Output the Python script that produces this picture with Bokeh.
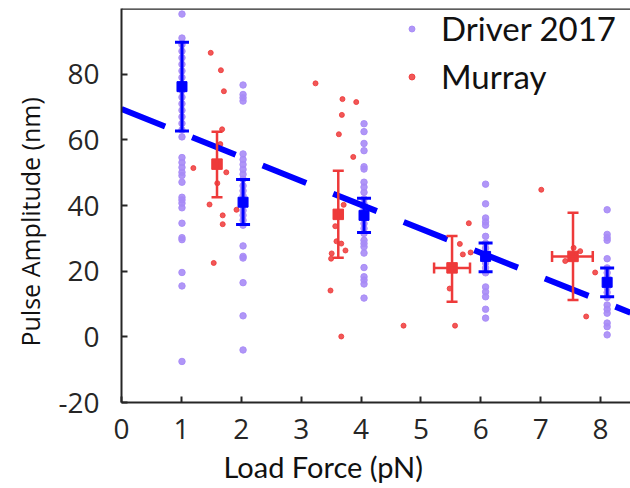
from bokeh.plotting import figure
from bokeh.models import (ColumnDataSource, Whisker, TeeHead, FixedTicker, Span,
                          Title, Legend, LegendItem, Range1d)
from bokeh.embed import file_html
from bokeh.resources import INLINE

# ---- data ----
drv_f1 = [98.3, 91, 89, 87, 85, 83, 81, 79, 77, 75, 73, 71, 69, 67, 65, 63, 60.9,
          54.6, 53.1, 51.6, 50.1, 49.1, 47.1, 42.5, 41.7, 40.7, 39.3, 34.6, 30.2,
          29.6, 19.6, 15.5, -7.5]
drv_f2 = [76.7, 73.8, 72.8, 71.8, 55.7, 54, 52.5, 51, 49.5, 48, 46, 44.5, 43, 41.5,
          40, 38.5, 37, 35.5, 34, 27.7, 24.5, 24, 16.5, 6.4, -4]
drv_f4 = [64.9, 62.5, 58.9, 56.7, 51.8, 51.1, 47.1, 45.6, 44, 42, 40.5, 39, 37.5, 36,
          34.5, 33, 31.5, 29.4, 28.4, 27.4, 25.5, 21.1, 18.3, 17.3, 16.1, 11.8]
drv_f6 = [46.5, 40.5, 36.2, 35, 34, 30.6, 28.5, 27, 25.5, 24, 22.5, 21, 19.5, 15.2,
          13.7, 12.2, 8.4, 5.7]
drv_f8 = [38.7, 31.2, 30.2, 29.4, 23.8, 21, 19.5, 18, 16.5, 15, 13.5, 12, 9.7, 8.4,
          7.2, 4.2, 3.1, 0.6]
drv_forces = [1.01, 2.03, 4.05, 6.08, 8.11]

mur_x = [1.49, 1.66, 1.71, 1.68, 1.65, 1.2, 1.75, 1.6, 1.47, 1.92, 1.69, 1.69, 1.54,
         3.24, 3.69, 3.92, 3.68, 3.63, 3.87, 3.71, 3.57, 3.59, 3.67, 3.74, 3.51, 3.5,
         3.49, 3.67, 4.71,
         5.8, 5.65, 5.7, 5.83, 5.48, 5.57,
         7.01, 7.55, 7.66, 7.41, 7.91, 7.76]
mur_y = [86.5, 81.2, 74.8, 63.2, 58.7, 51.4, 50.1, 46.8, 40.3, 38.7, 37, 34.3, 22.5,
         77.2, 72.4, 71.5, 67.6, 61.7, 54.8, 40.2, 33.7, 29.1, 28.4, 26.3, 25.4, 23.8,
         14.1, 0.1, 3.4,
         34.6, 28.3, 25.1, 25.7, 14.7, 3.4,
         44.8, 27.1, 26.1, 23.1, 19.6, 6.2]

drv_mean_x = [1.01, 2.03, 4.05, 6.08, 8.11]
drv_mean_y = [76.2, 41.0, 37.0, 24.5, 16.6]
drv_lo = [62.7, 34.2, 31.8, 19.8, 12.2]
drv_hi = [89.7, 47.9, 42.2, 28.6, 21.0]

mur_mean_x = [1.595, 3.62, 5.52, 7.54]
mur_mean_y = [52.6, 37.3, 21.0, 24.5]
mur_lo = [42.5, 24.1, 10.7, 11.2]
mur_hi = [62.5, 50.6, 30.7, 37.8]
mur_xerr_y = [21.0, 24.5]
mur_xlo = [5.22, 7.19]
mur_xhi = [5.82, 7.87]

fit_x = [0.0, 8.5]
fit_y = [69.4, 7.35]

x_ticks = [0, 1, 2, 3, 4, 5, 6, 7, 8]
y_ticks = [-20, 0, 20, 40, 60, 80]

PURPLE = "#a78bf6"
RED = "#ee3a3a"
BLUE = "#0000ff"
AXC = "#262626"

drv_x, drv_y = [], []
for f, vals in zip(drv_forces, [drv_f1, drv_f2, drv_f4, drv_f6, drv_f8]):
    drv_x += [f] * len(vals)
    drv_y += vals

p = figure(width=630, height=488, output_backend="svg", toolbar_location=None,
           x_range=Range1d(0, 8.5), y_range=Range1d(-20, 100),
           min_border_left=121, min_border_right=0, min_border_top=8,
           min_border_bottom=85)
p.outline_line_color = None
p.grid.visible = False
p.background_fill_color = "white"

for ax in (p.xaxis[0], p.yaxis[0]):
    ax.axis_line_color = AXC
    ax.axis_line_width = 2
    ax.major_tick_line_color = AXC
    ax.major_tick_line_width = 2
    ax.major_tick_in = 6
    ax.major_tick_out = 0
    ax.minor_tick_line_color = None
    ax.major_label_text_font = "Open Sans"
    ax.major_label_text_font_size = "28px"
    ax.major_label_text_color = AXC
p.xaxis.ticker = FixedTicker(ticks=x_ticks)
p.yaxis.ticker = FixedTicker(ticks=y_ticks)
p.yaxis.major_label_overrides = {t: str(t) for t in y_ticks}
p.xaxis.major_label_standoff = 16
p.yaxis.major_label_standoff = 22

p.add_layout(Span(location=100, dimension="width", line_color=AXC, line_width=2.5))

r_drv = p.scatter(drv_x, drv_y, size=6.5, color=PURPLE, alpha=0.9)
r_mur = p.scatter(mur_x, mur_y, size=5, color=RED, alpha=0.85)

p.line(fit_x, fit_y, line_color=BLUE, line_width=6, line_dash="47 29")

dsrc = ColumnDataSource(dict(x=drv_mean_x, y=drv_mean_y, lo=drv_lo, hi=drv_hi))
p.add_layout(Whisker(source=dsrc, base="x", lower="lo", upper="hi", dimension="height",
                     line_color=BLUE, line_width=3, level="overlay",
                     upper_head=TeeHead(size=14, line_color=BLUE, line_width=3),
                     lower_head=TeeHead(size=14, line_color=BLUE, line_width=3)))
msrc = ColumnDataSource(dict(x=mur_mean_x, y=mur_mean_y, lo=mur_lo, hi=mur_hi))
p.add_layout(Whisker(source=msrc, base="x", lower="lo", upper="hi", dimension="height",
                     line_color=RED, line_width=2.5, level="overlay",
                     upper_head=TeeHead(size=11, line_color=RED, line_width=2.5),
                     lower_head=TeeHead(size=11, line_color=RED, line_width=2.5)))
xsrc = ColumnDataSource(dict(y=mur_xerr_y, lo=mur_xlo, hi=mur_xhi))
p.add_layout(Whisker(source=xsrc, base="y", lower="lo", upper="hi", dimension="width",
                     line_color=RED, line_width=2.5, level="overlay",
                     upper_head=TeeHead(size=11, line_color=RED, line_width=2.5),
                     lower_head=TeeHead(size=11, line_color=RED, line_width=2.5)))

sq_d = p.scatter(drv_mean_x, drv_mean_y, marker="square", size=10, color=BLUE)
sq_m = p.scatter(mur_mean_x, mur_mean_y, marker="square", size=10.5, color=RED)
sq_d.level = "overlay"
sq_m.level = "overlay"

# axis titles
p.add_layout(Title(text="Load Force (pN)", align="left", offset=102, standoff=10,
                   text_font="Lato", text_font_size="29px", text_color="#111111",
                   text_font_style="normal"), "below")
p.add_layout(Title(text="Pulse Amplitude (nm)", align="left", offset=56, standoff=18,
                   text_font="Open Sans", text_font_size="25px", text_color="#111111",
                   text_font_style="normal"), "left")

legend = Legend(items=[LegendItem(label="Driver 2017", renderers=[r_drv]),
                       LegendItem(label="Murray", renderers=[r_mur])],
                location=(283, 306), border_line_color=None, background_fill_alpha=0,
                label_text_font="Lato", label_text_font_size="33px",
                label_text_color="#111111", glyph_width=15, glyph_height=15,
                label_standoff=22, spacing=8, padding=0, margin=0)
p.add_layout(legend)

open("out.html", "w").write(file_html(p, INLINE))
